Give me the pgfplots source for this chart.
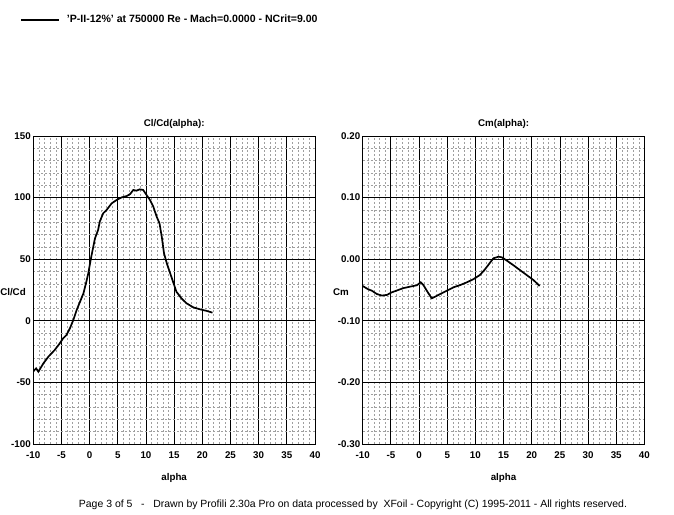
\documentclass[border=0pt]{standalone}
\usepackage{pgfplots}
\pgfplotsset{compat=1.18}
\usepackage{fontspec}
\setmainfont{Liberation Sans}
\begin{document}
\begin{tikzpicture}[x=1bp,y=1bp]
\useasboundingbox (0,0) rectangle (674,515);
\pgfplotsset{
  profili/.style={
    scale only axis, width=281.7bp, height=308bp,
    xmin=-10, xmax=40, xtick={-10,-5,...,40}, minor x tick num=4,
    grid=both,
    major grid style={black, line width=0.8bp},
    minor grid style={gray!75, line width=0.5bp, dash pattern=on 2bp off 2bp},
    axis line style={black, line width=0.9bp},
    tick style={draw=none},
    tick label style={font=\bfseries\fontsize{9.8}{10}\selectfont},
    /pgf/number format/assume math mode=true,
    xticklabel style={yshift=-4bp},
    yticklabel style={xshift=1bp},
    every axis title/.style={font=\bfseries\fontsize{9.8}{10}\selectfont, at={(axis description cs:0.5,1.039)}, anchor=center},
    every axis x label/.style={font=\bfseries\fontsize{9.8}{10}\selectfont, at={(axis description cs:0.5,-0.110)}, anchor=center},
    xlabel={alpha},
  }
}
\begin{axis}[profili, at={(33.3bp,71bp)}, anchor=south west,
  ymin=-100, ymax=150, ytick={-100,-50,...,150}, minor y tick num=4,
  title={Cl/Cd(alpha):}, ylabel={Cl/Cd},
  every axis y label/.style={at={(axis description cs:-0.072,0.4935)}, anchor=center, font=\bfseries\fontsize{9.8}{10}\selectfont},
  legend style={at={(axis description cs:-0.047,1.377)}, anchor=west, draw=none, fill=none,
    font=\bfseries\fontsize{10.6}{11}\selectfont, inner sep=0pt},
  legend image code/.code={\draw[#1] (0bp,0bp) -- (38bp,0bp);},
  legend cell align=left,
]
\addplot[black, line width=1.7bp] coordinates {
(-10,-41) (-9.5,-38.6) (-9.1,-41.3) (-8.2,-34.5) (-7.3,-29) (-6.2,-23.7) (-5.3,-18.3)
(-4.7,-14.2) (-4.1,-11.5) (-3.5,-6.1) (-2.9,0.6) (-2.3,8.8) (-1.7,15.5) (-1.1,22.3)
(-0.65,30.4) (-0.24,38.5) (0.18,49.4) (0.53,57.5) (0.95,66.9) (1.5,73.7) (1.8,80.5)
(2.4,87.2) (3.0,89.9) (3.9,95.3) (4.8,98.1) (5.7,100.2) (6.6,101.3) (7.2,102.9)
(7.75,106.2) (8.3,105.6) (8.9,106.7) (9.5,106.2) (10.1,102.1) (10.7,98.1) (11.3,92.6)
(11.9,84.5) (12.4,79.1) (12.8,68.3) (13.2,54.8) (13.7,46.6) (14.3,38.5) (14.9,30.4)
(15.4,23.6) (16.3,18.2) (17.2,14.2) (18.4,10.9) (19.6,9.3) (20.8,8.0) (21.8,6.6)
};
\addlegendentry{\hspace{5bp}'P-II-12\%' at 750000 Re - Mach=0.0000 - NCrit=9.00}
\end{axis}
\begin{axis}[profili, at={(362.7bp,71bp)}, anchor=south west,
  ymin=-0.3, ymax=0.2, ytick={-0.3,-0.2,...,0.2}, minor y tick num=4,
  yticklabel style={/pgf/number format/.cd, fixed, fixed zerofill, precision=2},
  title={Cm(alpha):}, ylabel={Cm},
  every axis y label/.style={at={(axis description cs:-0.077,0.4935)}, anchor=center, font=\bfseries\fontsize{9.8}{10}\selectfont},
]
\addplot[black, line width=1.7bp] coordinates {
(-10,-0.0435) (-9.0,-0.049) (-8.4,-0.051) (-7.5,-0.0565) (-6.6,-0.059) (-5.7,-0.058)
(-4.9,-0.054) (-4.0,-0.051) (-2.8,-0.047) (-1.6,-0.0446) (-0.4,-0.0424) (0.3,-0.0375)
(0.77,-0.042) (1.5,-0.053) (2.25,-0.0635) (3.1,-0.0597) (4.3,-0.054) (5.2,-0.050)
(6.1,-0.0457) (7.3,-0.042) (8.5,-0.0375) (9.6,-0.0327) (10.8,-0.0257) (11.7,-0.0165)
(12.6,-0.0056) (13.2,0.0014) (14.1,0.0041) (14.7,0.003) (15.6,-0.0024) (16.7,-0.0095)
(17.9,-0.0176) (19.1,-0.0257) (20.3,-0.0338) (21.4,-0.0435)
};
\end{axis}
\node[font=\fontsize{10.5}{12}\selectfont, anchor=center] at (353,10) {Page 3 of 5 \ \ - \ \ Drawn by Profili 2.30a Pro on data processed by \ XFoil - Copyright (C) 1995-2011 - All rights reserved.};
\end{tikzpicture}
\end{document}
